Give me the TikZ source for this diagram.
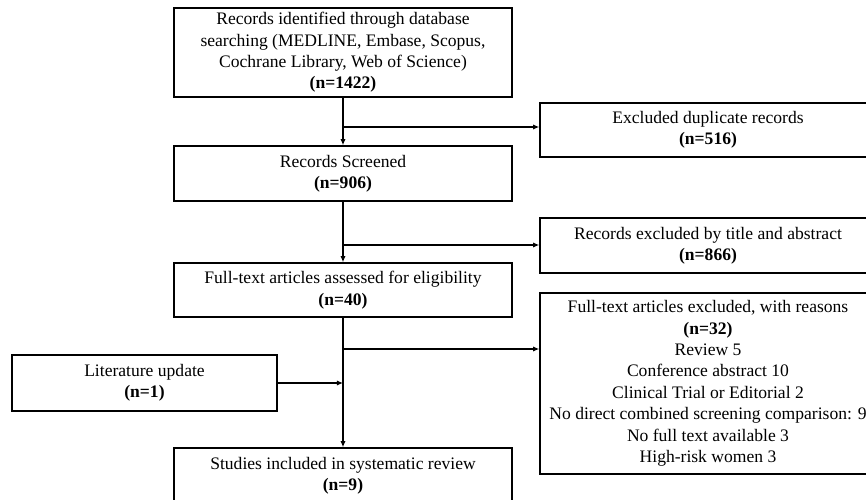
\documentclass[tikz,border=0pt]{standalone}
\usepackage{fontspec}
\setmainfont{Liberation Serif}
\usetikzlibrary{arrows.meta}

\begin{document}
\begin{tikzpicture}[x=0.02cm, y=-0.02cm,
        box_node/.style={draw, line width=0.8pt, align=center, inner sep=0pt,
            font=\fontsize{10}{12.2}\selectfont},
        flow_arrow/.style={line width=0.8pt, -{Latex[length=3.5pt, width=3pt]}}
    ]
    \useasboundingbox (0,0) rectangle (866,500);

    % Colonna principale
    \node[box_node, minimum width=338*0.02cm, minimum height=89*0.02cm] (identified) at (343,52.5)
        {Records identified through database\\searching (MEDLINE, Embase, Scopus,\\Cochrane Library, Web of Science)\\\textbf{(n=1422)}};
    \node[box_node, minimum width=338*0.02cm, minimum height=55*0.02cm] (screened) at (343,173.5)
        {Records Screened\\\textbf{(n=906)}};
    \node[box_node, minimum width=338*0.02cm, minimum height=54*0.02cm] (assessed) at (343,290)
        {Full-text articles assessed for eligibility\\\textbf{(n=40)}};
    \node[box_node, minimum width=338*0.02cm, minimum height=55*0.02cm] (included) at (343,475.5)
        {Studies included in systematic review\\\textbf{(n=9)}};

    % Esclusioni
    \node[box_node, minimum width=336*0.02cm, minimum height=54*0.02cm] (duplicates) at (708,130)
        {Excluded duplicate records\\\textbf{(n=516)}};
    \node[box_node, minimum width=336*0.02cm, minimum height=55*0.02cm] (title_excl) at (708,245.5)
        {Records excluded by title and abstract\\\textbf{(n=866)}};
    \node[box_node, minimum width=336*0.02cm, minimum height=181*0.02cm] (fulltext_excl) at (708,383.5)
        {Full-text articles excluded, with reasons\\\textbf{(n=32)}\\Review 5\\Conference abstract 10\\Clinical Trial or Editorial 2\\No direct combined screening comparison: 9\\No full text available 3\\High-risk women 3};

    % Aggiornamento
    \node[box_node, minimum width=265*0.02cm, minimum height=56*0.02cm] (update) at (144.5,383)
        {Literature update\\\textbf{(n=1)}};

    % Punti di diramazione
    \coordinate (b1) at (identified.south |- 0,127);
    \coordinate (b2) at (screened.south |- 0,245);
    \coordinate (b3) at (assessed.south |- 0,349);
    \coordinate (m4) at (assessed.south |- update.east);

    % Frecce
    \draw[flow_arrow] (identified.south) -- (screened.north);
    \draw[flow_arrow] (b1) -- (b1 -| duplicates.west);
    \draw[flow_arrow] (screened.south) -- (assessed.north);
    \draw[flow_arrow] (b2) -- (b2 -| title_excl.west);
    \draw[flow_arrow] (assessed.south) -- (included.north);
    \draw[flow_arrow] (b3) -- (b3 -| fulltext_excl.west);
    \draw[flow_arrow] (update.east) -- (m4);
\end{tikzpicture}
\end{document}
